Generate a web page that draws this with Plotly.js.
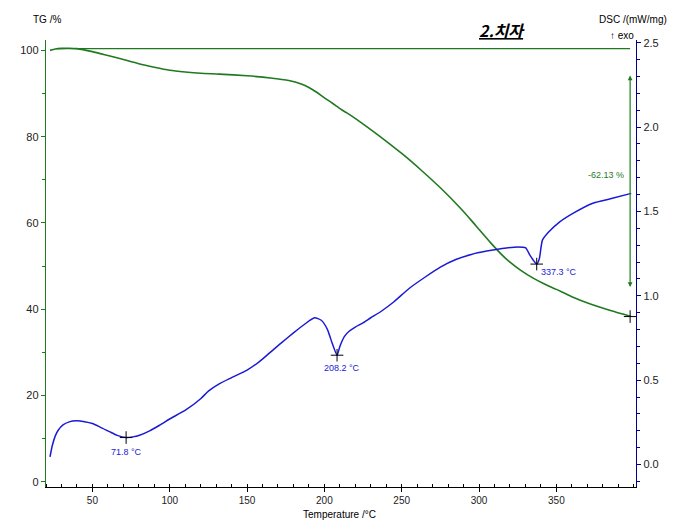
<!DOCTYPE html>
<html>
<head>
<meta charset="utf-8">
<script src="https://cdn.plot.ly/plotly-3.0.1.min.js"></script>
<style>html,body{margin:0;padding:0;background:#fff;}#chart{width:693px;height:532px;}</style>
</head>
<body>
<div id="chart"></div>
<script>
// TG curve (mass %, left axis)
var tgTemp = [22.6,26,30,35,40,50,60,67.7,80,90,100,110,120,132,150,165,177,185,190,195,200,205,211,218,224,235,250,263,276,288,295,300,308,314,320,327,335,342,350,360,372,385,398.4];
var tgMass = [100.0,100.3,100.45,100.5,100.4,99.7,98.8,98.1,96.9,96.1,95.4,95.0,94.7,94.5,94.1,93.6,93.0,92.2,91.4,90.3,89.0,87.8,86.3,84.7,83.2,80.3,76.1,72.1,67.8,63.4,60.6,58.5,55.2,52.9,50.9,49.0,47.2,45.9,44.6,42.9,41.2,39.7,38.3];
// DSC curve (mW/mg, right axis)
var dscTemp = [22.6,24,26,28,31,35,39.6,45,50,55,61,66,71.8,76,80.5,87,93.4,100,110.6,120,125,132,140,150,158,165,172,180,187,193.6,198,202,205,208.2,210,213,216,220,225,230,237,245,255,265,275,285,295,305,315,325,330,333,336,337.3,339,341,345,352,361,374,385,398.4];
var dscVal = [0.045,0.11,0.17,0.205,0.235,0.253,0.259,0.254,0.243,0.222,0.195,0.173,0.160,0.164,0.174,0.2,0.233,0.27,0.325,0.39,0.435,0.478,0.515,0.56,0.61,0.665,0.72,0.78,0.83,0.87,0.855,0.80,0.72,0.648,0.70,0.76,0.79,0.815,0.84,0.87,0.91,0.965,1.045,1.11,1.17,1.215,1.245,1.265,1.28,1.29,1.285,1.24,1.20,1.188,1.22,1.33,1.378,1.437,1.49,1.55,1.575,1.607];
// Peak markers
var peakTemp = [71.8, 208.2, 337.3];
var peakDsc = [0.160, 0.648, 1.188];
var peakLabels = ["71.8 °C", "208.2 °C", "337.3 °C"];
// Mass change
var tgRefLevel = 100.4;
var tgRefTemp = [27, 397.7];
var tgEndTemp = [397.7];
var tgEndMass = [38.3];
var massChangeLabel = "-62.13 %";
var xTickVals = [50, 100, 150, 200, 250, 300, 350];

var green = "#1f7a1f";
var blue = "#1a1ad6";
var textFont = "Liberation Sans, Arial";

var traces = [
  {x: tgRefTemp, y: [tgRefLevel, tgRefLevel], mode: "lines", line: {color: green, width: 1.3}, yaxis: "y", hoverinfo: "skip", showlegend: false},
  {x: tgTemp, y: tgMass, mode: "lines", line: {color: green, width: 1.6, shape: "spline", smoothing: 0.6}, yaxis: "y", name: "TG", showlegend: false},
  {x: dscTemp, y: dscVal, mode: "lines", line: {color: blue, width: 1.5, shape: "spline", smoothing: 0.6}, yaxis: "y2", name: "DSC", showlegend: false},
  {x: peakTemp, y: peakDsc, mode: "markers", marker: {symbol: "cross-thin", size: 9, line: {color: "#000", width: 1}}, yaxis: "y2", showlegend: false, hoverinfo: "skip"},
  {x: tgEndTemp, y: tgEndMass, mode: "markers", marker: {symbol: "cross-thin", size: 9, line: {color: "#000", width: 1}}, yaxis: "y", showlegend: false, hoverinfo: "skip"}
];

var shifts = [[0, -14], [5, -13], [22, -8]];
var annotations = peakTemp.map(function (t, i) {
  return {x: t, y: peakDsc[i], xref: "x", yref: "y2", text: peakLabels[i], showarrow: false,
    xanchor: "center", yanchor: "middle",
    xshift: shifts[i][0], yshift: shifts[i][1], font: {family: textFont, size: 9, color: blue}};
});
annotations.push(
  {x: 382.4, y: 71, xref: "x", yref: "y", text: massChangeLabel, showarrow: false, xanchor: "center", yanchor: "middle", font: {family: textFont, size: 9, color: green}},
  {x: 397.7, y: 94.2, xref: "x", yref: "y", ax: 397.7, ay: 44.8, axref: "x", ayref: "y", text: "", showarrow: true,
    arrowhead: 2, startarrowhead: 2, arrowside: "end+start", arrowsize: 0.8, startarrowsize: 0.8, arrowwidth: 1.2, arrowcolor: green, standoff: 0, startstandoff: 0},
  {x: 0.773, y: 1.022, xref: "paper", yref: "paper", xanchor: "center", yanchor: "middle", text: "<b><i><u>2.치자</u></i></b>", showarrow: false, font: {family: "Noto Sans CJK KR, Liberation Sans", size: 16, color: "#000"}},
  {x: 0.002, y: 1.045, xref: "paper", yref: "paper", xanchor: "center", yanchor: "middle", text: "TG /%", showarrow: false, font: {family: textFont, size: 10, color: "#000"}},
  {x: 0.995, y: 1.045, xref: "paper", yref: "paper", xanchor: "center", yanchor: "middle", text: "DSC /(mW/mg)", showarrow: false, font: {family: textFont, size: 10, color: "#000"}},
  {x: 0.976, y: 1.011, xref: "paper", yref: "paper", xanchor: "center", yanchor: "middle", text: "↑ exo", showarrow: false, font: {family: textFont, size: 10, color: "#000"}},
  {x: 0.498, y: -0.061, xref: "paper", yref: "paper", xanchor: "center", yanchor: "middle", text: "Temperature /°C", showarrow: false, borderpad: 0, font: {family: textFont, size: 10, color: "#000"}}
);

var tickFont = {family: textFont, size: 11, color: "#222"};

var layout = {
  width: 693, height: 532,
  margin: {l: 46, r: 57, t: 40, b: 45, pad: 0},
  paper_bgcolor: "#fff", plot_bgcolor: "#fff",
  showlegend: false,
  xaxis: {
    range: [20, 401.5], showgrid: false, zeroline: false,
    showline: true, linecolor: "#000", linewidth: 1.2,
    ticks: "outside", ticklen: 4, tickcolor: "#000",
    tickmode: "array", tickvals: xTickVals,
    minor: {dtick: 10, tick0: 0, ticks: "inside", ticklen: 3, tickcolor: "#000"},
    tickfont: {family: textFont, size: 10, color: "#222"}
  },
  yaxis: {
    range: [-1.2, 102.4], showgrid: false, zeroline: false,
    showline: true, linecolor: green, linewidth: 1.2,
    ticks: "outside", ticklen: 4, tickcolor: green, dtick: 20, tick0: 0,
    minor: {dtick: 10, ticks: "outside", ticklen: 3, tickcolor: green},
    tickfont: tickFont
  },
  yaxis2: {
    range: [-0.133, 2.516], overlaying: "y", side: "right", showgrid: false, zeroline: false,
    showline: true, linecolor: "#00008b", linewidth: 1.2,
    ticks: "outside", ticklen: 4, tickcolor: "#00008b", dtick: 0.5, tick0: 0, tickformat: ".1f",
    minor: {dtick: 0.1, ticks: "outside", ticklen: 3, tickcolor: "#00008b"},
    tickfont: tickFont
  },
  annotations: annotations
};

Plotly.newPlot("chart", traces, layout, {displayModeBar: false, staticPlot: true});
</script>
</body>
</html>
